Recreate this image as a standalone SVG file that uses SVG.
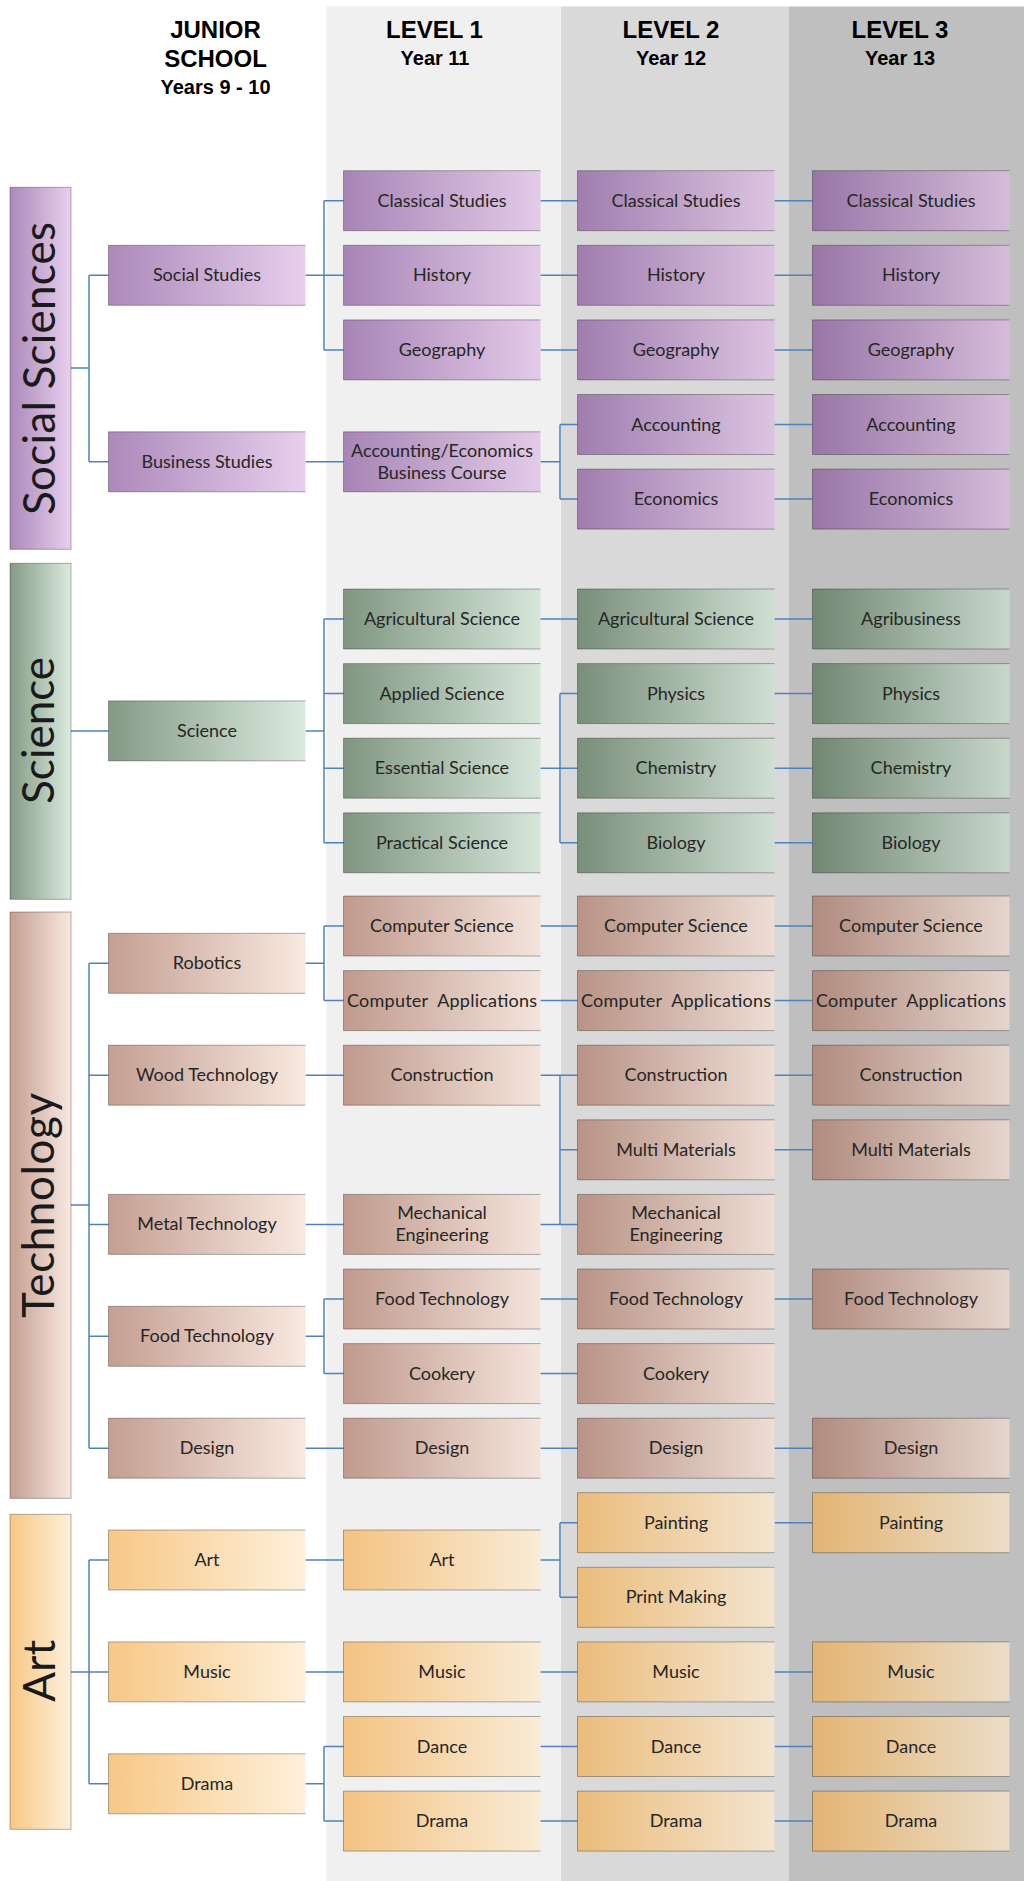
<svg xmlns="http://www.w3.org/2000/svg" width="1024" height="1881" viewBox="0 0 1024 1881">
<style>
.t{font-family:Lato,"Open Sans",sans-serif;font-size:18px;fill:#262626;text-anchor:middle}
.h1{font-family:"Liberation Sans",Arial,sans-serif;font-weight:bold;font-size:24px;fill:#000;text-anchor:middle}
.h2{font-family:"Liberation Sans",Arial,sans-serif;font-weight:bold;font-size:20px;fill:#000;text-anchor:middle}
.v{font-family:Lato,"Open Sans",sans-serif;font-weight:400;font-size:44px;fill:#1a1a1a;text-anchor:middle}
.bx{stroke:rgba(0,0,0,0.3);stroke-width:1;stroke-dasharray:197 60 257}
.cat{stroke:rgba(0,0,0,0.3);stroke-width:1}
.p{fill:url(#gp)}.g{fill:url(#gg)}.b{fill:url(#gb)}.o{fill:url(#go)}
.c{fill:none;stroke:#4f81bd;stroke-width:1.5}
</style>
<defs>
<linearGradient id="gp"><stop offset="0" stop-color="#88569c" stop-opacity="0.7"/><stop offset="1" stop-color="#ddbbe5" stop-opacity="0.7"/></linearGradient>
<linearGradient id="gg"><stop offset="0" stop-color="#506f51" stop-opacity="0.7"/><stop offset="1" stop-color="#cbe2d0" stop-opacity="0.7"/></linearGradient>
<linearGradient id="gb"><stop offset="0" stop-color="#ab7563" stop-opacity="0.7"/><stop offset="1" stop-color="#f6dfd3" stop-opacity="0.7"/></linearGradient>
<linearGradient id="go"><stop offset="0" stop-color="#f3b053" stop-opacity="0.7"/><stop offset="1" stop-color="#feeacb" stop-opacity="0.7"/></linearGradient>
</defs>
<rect width="1024" height="1881" fill="#fff"/>
<g id="bands">
<rect x="326.5" y="6.5" width="234.5" height="1875" fill="#f0f0f0"/>
<rect x="561" y="6.5" width="227.5" height="1875" fill="#d9d9d9"/>
<rect x="788.5" y="6.5" width="235.5" height="1875" fill="#bfbfbf"/>
</g>
<g id="headers">
<text class="h1" x="215.5" y="38">JUNIOR</text>
<text class="h1" x="215.5" y="67">SCHOOL</text>
<text class="h2" x="215.5" y="94">Years 9 - 10</text>
<text class="h1" x="434.5" y="38">LEVEL 1</text>
<text class="h2" x="435" y="65">Year 11</text>
<text class="h1" x="671" y="38">LEVEL 2</text>
<text class="h2" x="671" y="65">Year 12</text>
<text class="h1" x="900" y="38">LEVEL 3</text>
<text class="h2" x="900" y="65">Year 13</text>
</g>
<g id="connectors" class="c">
<path d="M71 368H89M89 275.3V461.8M89 275.3H108.5M89 461.8H108.5"/>
<path d="M305.5 275.3H324M324 200.7V349.9M324 200.7H343.5M324 275.3H343.5M324 349.9H343.5"/>
<path d="M305.5 461.8H343.5"/>
<path d="M540.5 461.8H560M560 424.5V499.1M560 424.5H577.5M560 499.1H577.5"/>
<path d="M540.5 200.7H577.5M540.5 275.3H577.5M540.5 349.9H577.5"/>
<path d="M774.5 200.7H812.5M774.5 275.3H812.5M774.5 349.9H812.5M774.5 424.5H812.5M774.5 499.1H812.5"/>
<path d="M71 730.9H108.5"/>
<path d="M305.5 730.9H324M324 619V842.8M324 619H343.5M324 693.6H343.5M324 768.2H343.5M324 842.8H343.5"/>
<path d="M540.5 619H577.5"/>
<path d="M540.5 768.2H560M560 693.6V842.8M560 693.6H577.5M560 768.2H577.5M560 842.8H577.5"/>
<path d="M774.5 619H812.5M774.5 693.6H812.5M774.5 768.2H812.5M774.5 842.8H812.5"/>
<path d="M71 1205H89M89 963.3V1448.2M89 963.3H108.5M89 1075.2H108.5M89 1224.4H108.5M89 1336.3H108.5M89 1448.2H108.5"/>
<path d="M305.5 963.3H324M324 926V1000.6M324 926H343.5M324 1000.6H343.5"/>
<path d="M305.5 1075.2H343.5M305.5 1224.4H343.5M305.5 1448.2H343.5"/>
<path d="M305.5 1336.3H324M324 1299V1373.6M324 1299H343.5M324 1373.6H343.5"/>
<path d="M540.5 926H577.5M540.5 1000.6H577.5"/>
<path d="M540.5 1075.2H560M540.5 1224.4H560M560 1075.2V1224.4M560 1075.2H577.5M560 1149.8H577.5M560 1224.4H577.5"/>
<path d="M540.5 1299H577.5M540.5 1373.6H577.5M540.5 1448.2H577.5"/>
<path d="M774.5 926H812.5M774.5 1000.6H812.5M774.5 1075.2H812.5M774.5 1149.8H812.5M774.5 1299H812.5M774.5 1448.2H812.5"/>
<path d="M71 1671.9H89M89 1560V1783.8M89 1560H108.5M89 1671.9H108.5M89 1783.8H108.5"/>
<path d="M305.5 1560H343.5M305.5 1671.9H343.5"/>
<path d="M305.5 1783.8H324M324 1746.5V1821.1M324 1746.5H343.5M324 1821.1H343.5"/>
<path d="M540.5 1560H560M560 1522.7V1597.3M560 1522.7H577.5M560 1597.3H577.5"/>
<path d="M540.5 1671.9H577.5M540.5 1746.5H577.5M540.5 1821.1H577.5"/>
<path d="M774.5 1522.7H812.5M774.5 1671.9H812.5M774.5 1746.5H812.5M774.5 1821.1H812.5"/>
</g>
<g id="cat-social"><rect class="p cat" x="10" y="187.3" width="61" height="362"/><text class="v" transform="translate(55 368.4) rotate(-90)" textLength="293">Social Sciences</text></g>
<g id="cat-science"><rect class="g cat" x="10" y="563.3" width="61" height="336"/><text class="v" transform="translate(54 730.4) rotate(-90)" textLength="147">Science</text></g>
<g id="cat-technology"><rect class="b cat" x="10" y="912" width="61" height="586.3"/><text class="v" transform="translate(54 1205.4) rotate(-90)" textLength="225">Technology</text></g>
<g id="cat-art"><rect class="o cat" x="10" y="1514.3" width="61" height="315"/><text class="v" transform="translate(55 1670.8) rotate(-90)" textLength="62">Art</text></g>

<g id="j-social-studies"><rect class="p bx" x="108.5" y="245.3" width="197" height="60"/><text class="t" x="207" y="281.3">Social Studies</text></g>
<g id="j-business-studies"><rect class="p bx" x="108.5" y="431.8" width="197" height="60"/><text class="t" x="207" y="467.8">Business Studies</text></g>
<g id="j-science"><rect class="g bx" x="108.5" y="700.9" width="197" height="60"/><text class="t" x="207" y="736.9">Science</text></g>
<g id="j-robotics"><rect class="b bx" x="108.5" y="933.3" width="197" height="60"/><text class="t" x="207" y="969.3">Robotics</text></g>
<g id="j-wood-technology"><rect class="b bx" x="108.5" y="1045.2" width="197" height="60"/><text class="t" x="207" y="1081.2">Wood Technology</text></g>
<g id="j-metal-technology"><rect class="b bx" x="108.5" y="1194.4" width="197" height="60"/><text class="t" x="207" y="1230.4">Metal Technology</text></g>
<g id="j-food-technology"><rect class="b bx" x="108.5" y="1306.3" width="197" height="60"/><text class="t" x="207" y="1342.3">Food Technology</text></g>
<g id="j-design"><rect class="b bx" x="108.5" y="1418.2" width="197" height="60"/><text class="t" x="207" y="1454.2">Design</text></g>
<g id="j-art"><rect class="o bx" x="108.5" y="1530" width="197" height="60"/><text class="t" x="207" y="1566">Art</text></g>
<g id="j-music"><rect class="o bx" x="108.5" y="1641.9" width="197" height="60"/><text class="t" x="207" y="1677.9">Music</text></g>
<g id="j-drama"><rect class="o bx" x="108.5" y="1753.8" width="197" height="60"/><text class="t" x="207" y="1789.8">Drama</text></g>

<g id="l1-classical-studies"><rect class="p bx" x="343.5" y="170.7" width="197" height="60"/><text class="t" x="442" y="206.7">Classical Studies</text></g>
<g id="l1-history"><rect class="p bx" x="343.5" y="245.3" width="197" height="60"/><text class="t" x="442" y="281.3">History</text></g>
<g id="l1-geography"><rect class="p bx" x="343.5" y="319.9" width="197" height="60"/><text class="t" x="442" y="355.9">Geography</text></g>
<g id="l1-acc-econ"><rect class="p bx" x="343.5" y="431.8" width="197" height="60"/><text class="t" x="442" y="456.8">Accounting/Economics<tspan x="442" y="478.8">Business Course</tspan></text></g>
<g id="l1-agricultural-science"><rect class="g bx" x="343.5" y="589" width="197" height="60"/><text class="t" x="442" y="625">Agricultural Science</text></g>
<g id="l1-applied-science"><rect class="g bx" x="343.5" y="663.6" width="197" height="60"/><text class="t" x="442" y="699.6">Applied Science</text></g>
<g id="l1-essential-science"><rect class="g bx" x="343.5" y="738.2" width="197" height="60"/><text class="t" x="442" y="774.2">Essential Science</text></g>
<g id="l1-practical-science"><rect class="g bx" x="343.5" y="812.8" width="197" height="60"/><text class="t" x="442" y="848.8">Practical Science</text></g>
<g id="l1-computer-science"><rect class="b bx" x="343.5" y="896" width="197" height="60"/><text class="t" x="442" y="932">Computer Science</text></g>
<g id="l1-computer-applications"><rect class="b bx" x="343.5" y="970.6" width="197" height="60"/><text class="t" x="442" y="1006.6" xml:space="preserve" textLength="190">Computer  Applications</text></g>
<g id="l1-construction"><rect class="b bx" x="343.5" y="1045.2" width="197" height="60"/><text class="t" x="442" y="1081.2">Construction</text></g>
<g id="l1-mechanical-engineering"><rect class="b bx" x="343.5" y="1194.4" width="197" height="60"/><text class="t" x="442" y="1219.4">Mechanical<tspan x="442" y="1241.4">Engineering</tspan></text></g>
<g id="l1-food-technology"><rect class="b bx" x="343.5" y="1269" width="197" height="60"/><text class="t" x="442" y="1305">Food Technology</text></g>
<g id="l1-cookery"><rect class="b bx" x="343.5" y="1343.6" width="197" height="60"/><text class="t" x="442" y="1379.6">Cookery</text></g>
<g id="l1-design"><rect class="b bx" x="343.5" y="1418.2" width="197" height="60"/><text class="t" x="442" y="1454.2">Design</text></g>
<g id="l1-art"><rect class="o bx" x="343.5" y="1530" width="197" height="60"/><text class="t" x="442" y="1566">Art</text></g>
<g id="l1-music"><rect class="o bx" x="343.5" y="1641.9" width="197" height="60"/><text class="t" x="442" y="1677.9">Music</text></g>
<g id="l1-dance"><rect class="o bx" x="343.5" y="1716.5" width="197" height="60"/><text class="t" x="442" y="1752.5">Dance</text></g>
<g id="l1-drama"><rect class="o bx" x="343.5" y="1791.1" width="197" height="60"/><text class="t" x="442" y="1827.1">Drama</text></g>

<g id="l2-classical-studies"><rect class="p bx" x="577.5" y="170.7" width="197" height="60"/><text class="t" x="676" y="206.7">Classical Studies</text></g>
<g id="l2-history"><rect class="p bx" x="577.5" y="245.3" width="197" height="60"/><text class="t" x="676" y="281.3">History</text></g>
<g id="l2-geography"><rect class="p bx" x="577.5" y="319.9" width="197" height="60"/><text class="t" x="676" y="355.9">Geography</text></g>
<g id="l2-accounting"><rect class="p bx" x="577.5" y="394.5" width="197" height="60"/><text class="t" x="676" y="430.5">Accounting</text></g>
<g id="l2-economics"><rect class="p bx" x="577.5" y="469.1" width="197" height="60"/><text class="t" x="676" y="505.1">Economics</text></g>
<g id="l2-agricultural-science"><rect class="g bx" x="577.5" y="589" width="197" height="60"/><text class="t" x="676" y="625">Agricultural Science</text></g>
<g id="l2-physics"><rect class="g bx" x="577.5" y="663.6" width="197" height="60"/><text class="t" x="676" y="699.6">Physics</text></g>
<g id="l2-chemistry"><rect class="g bx" x="577.5" y="738.2" width="197" height="60"/><text class="t" x="676" y="774.2">Chemistry</text></g>
<g id="l2-biology"><rect class="g bx" x="577.5" y="812.8" width="197" height="60"/><text class="t" x="676" y="848.8">Biology</text></g>
<g id="l2-computer-science"><rect class="b bx" x="577.5" y="896" width="197" height="60"/><text class="t" x="676" y="932">Computer Science</text></g>
<g id="l2-computer-applications"><rect class="b bx" x="577.5" y="970.6" width="197" height="60"/><text class="t" x="676" y="1006.6" xml:space="preserve" textLength="190">Computer  Applications</text></g>
<g id="l2-construction"><rect class="b bx" x="577.5" y="1045.2" width="197" height="60"/><text class="t" x="676" y="1081.2">Construction</text></g>
<g id="l2-multi-materials"><rect class="b bx" x="577.5" y="1119.8" width="197" height="60"/><text class="t" x="676" y="1155.8">Multi Materials</text></g>
<g id="l2-mechanical-engineering"><rect class="b bx" x="577.5" y="1194.4" width="197" height="60"/><text class="t" x="676" y="1219.4">Mechanical<tspan x="676" y="1241.4">Engineering</tspan></text></g>
<g id="l2-food-technology"><rect class="b bx" x="577.5" y="1269" width="197" height="60"/><text class="t" x="676" y="1305">Food Technology</text></g>
<g id="l2-cookery"><rect class="b bx" x="577.5" y="1343.6" width="197" height="60"/><text class="t" x="676" y="1379.6">Cookery</text></g>
<g id="l2-design"><rect class="b bx" x="577.5" y="1418.2" width="197" height="60"/><text class="t" x="676" y="1454.2">Design</text></g>
<g id="l2-painting"><rect class="o bx" x="577.5" y="1492.7" width="197" height="60"/><text class="t" x="676" y="1528.7">Painting</text></g>
<g id="l2-print-making"><rect class="o bx" x="577.5" y="1567.3" width="197" height="60"/><text class="t" x="676" y="1603.3">Print Making</text></g>
<g id="l2-music"><rect class="o bx" x="577.5" y="1641.9" width="197" height="60"/><text class="t" x="676" y="1677.9">Music</text></g>
<g id="l2-dance"><rect class="o bx" x="577.5" y="1716.5" width="197" height="60"/><text class="t" x="676" y="1752.5">Dance</text></g>
<g id="l2-drama"><rect class="o bx" x="577.5" y="1791.1" width="197" height="60"/><text class="t" x="676" y="1827.1">Drama</text></g>

<g id="l3-classical-studies"><rect class="p bx" x="812.5" y="170.7" width="197" height="60"/><text class="t" x="911" y="206.7">Classical Studies</text></g>
<g id="l3-history"><rect class="p bx" x="812.5" y="245.3" width="197" height="60"/><text class="t" x="911" y="281.3">History</text></g>
<g id="l3-geography"><rect class="p bx" x="812.5" y="319.9" width="197" height="60"/><text class="t" x="911" y="355.9">Geography</text></g>
<g id="l3-accounting"><rect class="p bx" x="812.5" y="394.5" width="197" height="60"/><text class="t" x="911" y="430.5">Accounting</text></g>
<g id="l3-economics"><rect class="p bx" x="812.5" y="469.1" width="197" height="60"/><text class="t" x="911" y="505.1">Economics</text></g>
<g id="l3-agribusiness"><rect class="g bx" x="812.5" y="589" width="197" height="60"/><text class="t" x="911" y="625">Agribusiness</text></g>
<g id="l3-physics"><rect class="g bx" x="812.5" y="663.6" width="197" height="60"/><text class="t" x="911" y="699.6">Physics</text></g>
<g id="l3-chemistry"><rect class="g bx" x="812.5" y="738.2" width="197" height="60"/><text class="t" x="911" y="774.2">Chemistry</text></g>
<g id="l3-biology"><rect class="g bx" x="812.5" y="812.8" width="197" height="60"/><text class="t" x="911" y="848.8">Biology</text></g>
<g id="l3-computer-science"><rect class="b bx" x="812.5" y="896" width="197" height="60"/><text class="t" x="911" y="932">Computer Science</text></g>
<g id="l3-computer-applications"><rect class="b bx" x="812.5" y="970.6" width="197" height="60"/><text class="t" x="911" y="1006.6" xml:space="preserve" textLength="190">Computer  Applications</text></g>
<g id="l3-construction"><rect class="b bx" x="812.5" y="1045.2" width="197" height="60"/><text class="t" x="911" y="1081.2">Construction</text></g>
<g id="l3-multi-materials"><rect class="b bx" x="812.5" y="1119.8" width="197" height="60"/><text class="t" x="911" y="1155.8">Multi Materials</text></g>
<g id="l3-food-technology"><rect class="b bx" x="812.5" y="1269" width="197" height="60"/><text class="t" x="911" y="1305">Food Technology</text></g>
<g id="l3-design"><rect class="b bx" x="812.5" y="1418.2" width="197" height="60"/><text class="t" x="911" y="1454.2">Design</text></g>
<g id="l3-painting"><rect class="o bx" x="812.5" y="1492.7" width="197" height="60"/><text class="t" x="911" y="1528.7">Painting</text></g>
<g id="l3-music"><rect class="o bx" x="812.5" y="1641.9" width="197" height="60"/><text class="t" x="911" y="1677.9">Music</text></g>
<g id="l3-dance"><rect class="o bx" x="812.5" y="1716.5" width="197" height="60"/><text class="t" x="911" y="1752.5">Dance</text></g>
<g id="l3-drama"><rect class="o bx" x="812.5" y="1791.1" width="197" height="60"/><text class="t" x="911" y="1827.1">Drama</text></g>
</svg>
